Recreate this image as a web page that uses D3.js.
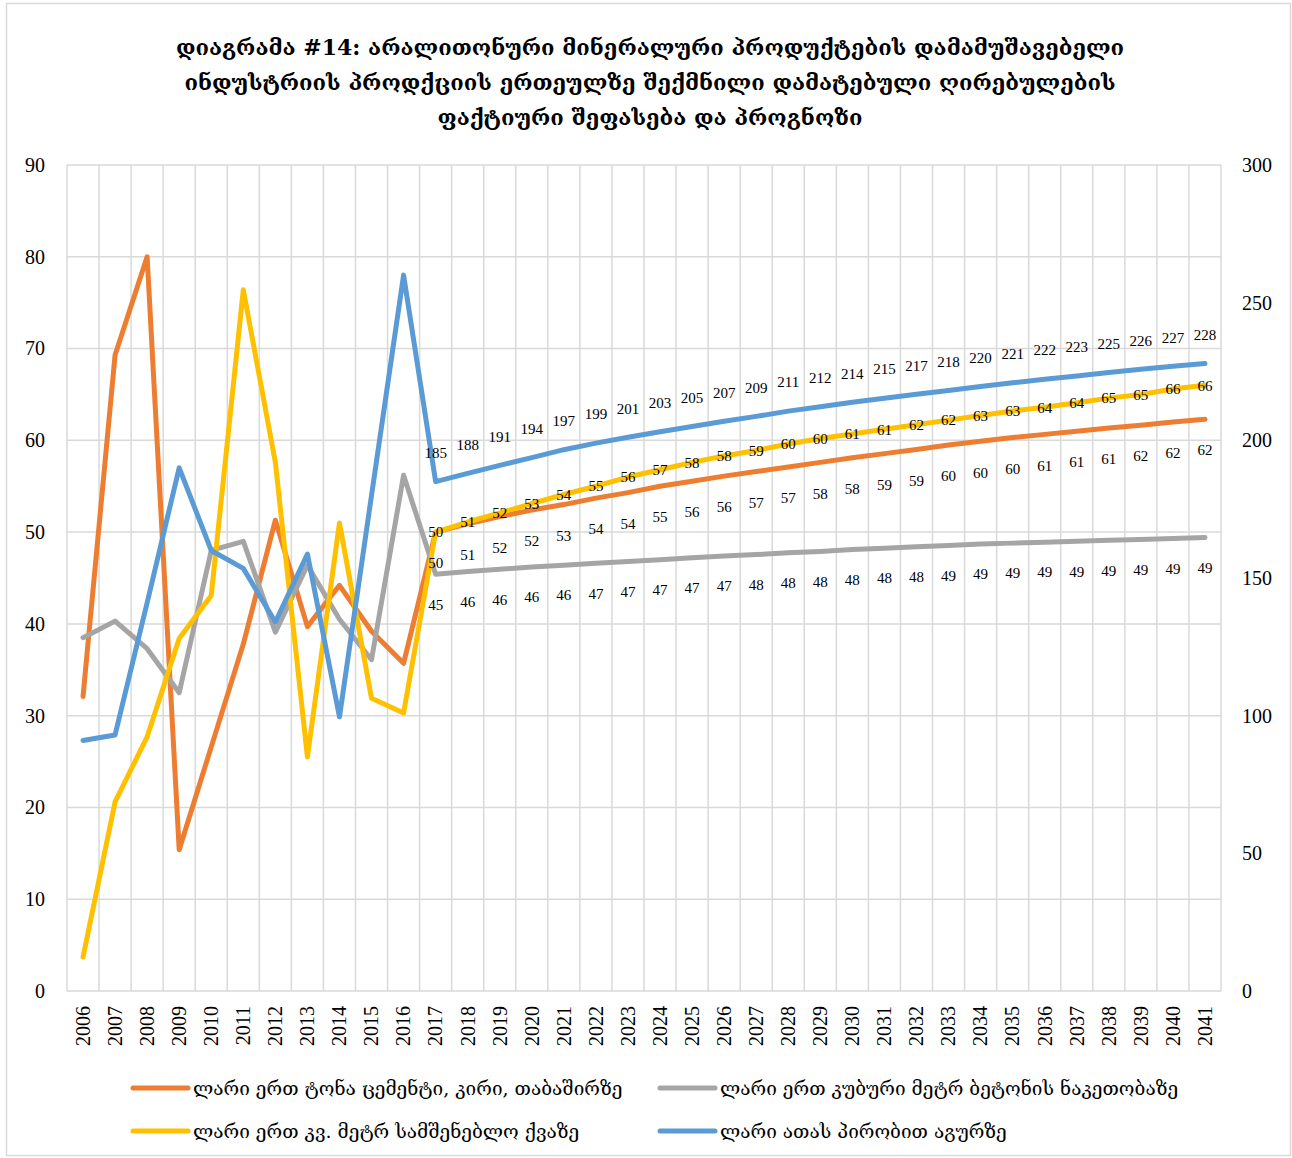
<!DOCTYPE html>
<html>
<head>
<meta charset="utf-8">
<script src="https://cdn.jsdelivr.net/npm/d3@7"></script>
<style>
  html, body { margin: 0; padding: 0; background: #fff; }
  svg { display: block; }
</style>
</head>
<body>
<div id="chart"></div>
<script>
// Years on the category axis (2006–2016 actual, 2017–2041 forecast)
const years = d3.range(2006, 2042).map(String);

// Value added per unit of output, GEL
const cement = [32.1, 69.3, 80.0, 15.4, 26.6, 37.8, 51.3, 39.7, 44.2, 39.2, 35.7,
  50.0, 50.9, 51.7, 52.4, 53.0, 53.7, 54.3, 55.0, 55.55, 56.1, 56.6, 57.1, 57.6, 58.1,
  58.55, 59.0, 59.5, 59.9, 60.3, 60.65, 61.0, 61.35, 61.65, 62.0, 62.3];
const concrete = [38.5, 40.3, 37.3, 32.5, 48.0, 49.0, 39.1, 46.4, 40.5, 36.1, 56.2,
  45.4, 45.7, 45.95, 46.2, 46.4, 46.6, 46.8, 47.0, 47.2, 47.4, 47.55, 47.75, 47.9, 48.1,
  48.25, 48.4, 48.55, 48.7, 48.8, 48.9, 49.0, 49.1, 49.2, 49.3, 49.4];
const stone = [3.7, 20.6, 27.7, 38.4, 43.1, 76.4, 57.6, 25.5, 51.0, 31.9, 30.3,
  50.0, 51.1, 52.1, 53.1, 54.1, 55.0, 56.0, 56.8, 57.6, 58.3, 58.9, 59.6, 60.2, 60.7,
  61.2, 61.7, 62.2, 62.7, 63.2, 63.6, 64.1, 64.6, 65.0, 65.6, 66.0];
// Bricks, per thousand (secondary axis)
const bricks = [91, 93, 141, 190, 160, 153.5, 134, 158.7, 99.6, 180, 260,
  185.0, 188.0, 190.9, 193.7, 196.6, 199.0, 201.1, 203.1, 205.0, 206.9, 208.7, 210.6, 212.2, 213.8,
  215.3, 216.7, 218.1, 219.55, 220.9, 222.2, 223.4, 224.6, 225.8, 226.9, 227.9];

// First forecast year: labels are shown from here on
const labelFrom = "2017";

const leftTicks = d3.range(0, 91, 10);
const rightTicks = d3.range(0, 301, 50);

const titleLines = [
  "დიაგრამა #14: არალითონური მინერალური პროდუქტების დამამუშავებელი",
  "ინდუსტრიის პროდქციის ერთეულზე შექმნილი დამატებული ღირებულების",
  "ფაქტიური შეფასება და პროგნოზი"
];

const seriesNames = [
  "ლარი ერთ ტონა ცემენტი, კირი, თაბაშირზე",
  "ლარი ერთ კუბური მეტრ ბეტონის ნაკეთობაზე",
  "ლარი ერთ კვ. მეტრ სამშენებლო ქვაზე",
  "ლარი ათას პირობით აგურზე"
];

const W = 1292, H = 1158;
const plot = { left: 67, right: 1221, top: 165, bottom: 991 };
const serif = "'Liberation Serif', 'DejaVu Serif', serif";
const geo = "'DejaVu Serif', 'DejaVu Sans', serif";

const svg = d3.select("#chart").append("svg")
  .attr("width", W).attr("height", H);

// chart frame
svg.append("rect")
  .attr("x", 6.5).attr("y", 3.5).attr("width", 1284).attr("height", 1152)
  .attr("fill", "#fff").attr("stroke", "#d9d9d9").attr("stroke-width", 1.5);

// title
const title = svg.append("text")
  .attr("text-anchor", "middle")
  .attr("font-family", geo).attr("font-weight", "bold")
  .attr("font-size", 22).attr("fill", "#000");
titleLines.forEach((t, i) => {
  title.append("tspan").attr("x", 650).attr("y", 55 + i * 35).text(t);
});

const x = d3.scaleBand().domain(years).range([plot.left, plot.right]).padding(0);
const yL = d3.scaleLinear().domain([0, 90]).range([plot.bottom, plot.top]);
const yR = d3.scaleLinear().domain([0, 300]).range([plot.bottom, plot.top]);
const cx = d => x(d) + x.bandwidth() / 2;

// grid
const grid = svg.append("g").attr("stroke", "#d9d9d9").attr("stroke-width", 1.5);
grid.selectAll("line.h").data(leftTicks).join("line")
  .attr("x1", plot.left).attr("x2", plot.right)
  .attr("y1", d => yL(d)).attr("y2", d => yL(d));
const bounds = years.map(d => x(d)).concat([plot.right]);
grid.selectAll("line.v").data(bounds).join("line")
  .attr("x1", d => d).attr("x2", d => d)
  .attr("y1", plot.top).attr("y2", plot.bottom);

// axes
const axL = svg.append("g").attr("transform", `translate(${plot.left - 22},0)`)
  .call(d3.axisLeft(yL).tickValues(leftTicks).tickSize(0).tickPadding(0));
const axR = svg.append("g").attr("transform", `translate(${plot.right + 21},0)`)
  .call(d3.axisRight(yR).tickValues(rightTicks).tickSize(0).tickPadding(0));
const axX = svg.append("g").attr("transform", `translate(0,${plot.bottom})`)
  .call(d3.axisBottom(x).tickSize(0).tickPadding(0));
[axL, axR, axX].forEach(a => {
  a.select(".domain").remove();
  a.selectAll("text").attr("font-family", serif).attr("font-size", 20).attr("fill", "#000");
});
axX.selectAll("text")
  .attr("text-anchor", "end")
  .attr("transform", "rotate(-90)")
  .attr("x", -15).attr("y", 0).attr("dy", "0.34em");

// series
const series = [
  { values: cement, y: yL, color: "#ED7D31", labelDy: 31 },
  { values: concrete, y: yL, color: "#A5A5A5", labelDy: 30 },
  { values: stone, y: yL, color: "#FFC000", labelDy: 0 },
  { values: bricks, y: yR, color: "#5B9BD5", labelDy: -29 }
];

series.forEach(s => {
  const line = d3.line().x((v, i) => cx(years[i])).y(v => s.y(v));
  svg.append("path").datum(s.values)
    .attr("d", line)
    .attr("fill", "none").attr("stroke", s.color).attr("stroke-width", 5)
    .attr("stroke-linejoin", "round").attr("stroke-linecap", "round");
});

const fmt = d3.format(".0f");
const start = years.indexOf(labelFrom);
series.forEach(s => {
  const pts = s.values.map((v, i) => ({ v, yr: years[i] })).slice(start);
  svg.append("g").selectAll("text").data(pts).join("text")
    .attr("x", d => cx(d.yr))
    .attr("y", d => s.y(d.v) + s.labelDy)
    .attr("dy", "0.35em")
    .attr("text-anchor", "middle")
    .attr("font-family", serif).attr("font-size", 15).attr("fill", "#000")
    .text(d => fmt(d.v));
});

// legend
const legendPos = [[133, 1088], [660, 1088], [133, 1131], [660, 1131]];
series.forEach((s, i) => {
  const [lx, ly] = legendPos[i];
  const g = svg.append("g");
  g.append("line")
    .attr("x1", lx).attr("x2", lx + 55).attr("y1", ly).attr("y2", ly)
    .attr("stroke", s.color).attr("stroke-width", 5).attr("stroke-linecap", "round");
  g.append("text")
    .attr("x", lx + 60).attr("y", ly).attr("dy", "0.35em")
    .attr("font-family", geo).attr("font-size", 19).attr("fill", "#000")
    .text(seriesNames[i]);
});
</script>
</body>
</html>
